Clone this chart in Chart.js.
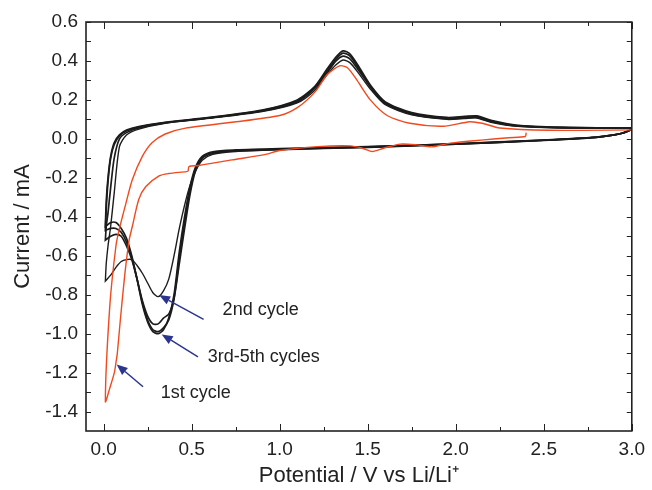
<!DOCTYPE html>
<html>
<head>
<meta charset="utf-8">
<script src="https://cdn.jsdelivr.net/npm/chart.js@4.4.1/dist/chart.umd.min.js"></script>
<style>
  html, body { margin: 0; padding: 0; background: #fff; }
  #wrap { width: 652px; height: 490px; }
</style>
</head>
<body>
<div id="wrap"><canvas id="cv" width="652" height="490"></canvas></div>
<script>
// potentials (V vs Li/Li+) for the black cycles, cathodic sweep 3.0 -> 0.01 V
const cathodicPotential = [3.0, 2.95, 2.9, 2.8, 2.5, 2.0, 1.5, 1.0, 0.75, 0.62, 0.56, 0.52, 0.49, 0.46, 0.43, 0.40, 0.37, 0.34, 0.31, 0.28, 0.25, 0.22, 0.19, 0.16, 0.13, 0.10, 0.07, 0.04, 0.01];
// anodic sweep 0.01 -> 3.0 V
const anodicPotential = [0.01, 0.015, 0.025, 0.04, 0.06, 0.09, 0.13, 0.2, 0.35, 0.6, 0.9, 1.1, 1.2, 1.27, 1.32, 1.36, 1.40, 1.45, 1.52, 1.6, 1.75, 1.95, 2.05, 2.12, 2.2, 2.35, 2.6, 3.0];

// currents (mA)
const cycle2Cathodic = [0.048, 0.03, 0.02, 0.008, -0.008, -0.028, -0.044, -0.056, -0.065, -0.08, -0.11, -0.17, -0.24, -0.34, -0.46, -0.60, -0.72, -0.78, -0.81, -0.79, -0.74, -0.69, -0.65, -0.62, -0.62, -0.63, -0.66, -0.70, -0.73];
const cycle3Cathodic = [0.048, 0.03, 0.02, 0.008, -0.008, -0.027, -0.042, -0.054, -0.062, -0.075, -0.10, -0.17, -0.29, -0.46, -0.64, -0.82, -0.90, -0.92, -0.95, -0.95, -0.91, -0.83, -0.72, -0.62, -0.55, -0.50, -0.49, -0.50, -0.52];
const cycle4Cathodic = [0.048, 0.03, 0.02, 0.008, -0.007, -0.026, -0.041, -0.052, -0.06, -0.07, -0.095, -0.16, -0.27, -0.43, -0.61, -0.82, -0.93, -0.97, -0.99, -0.98, -0.93, -0.84, -0.72, -0.61, -0.53, -0.48, -0.46, -0.46, -0.47];
const cycle5Cathodic = [0.048, 0.03, 0.02, 0.009, -0.006, -0.025, -0.04, -0.05, -0.057, -0.066, -0.09, -0.15, -0.25, -0.40, -0.58, -0.80, -0.92, -0.98, -1.0, -0.99, -0.94, -0.85, -0.72, -0.60, -0.51, -0.46, -0.43, -0.43, -0.45];

const cycle2Anodic = [-0.73, -0.64, -0.55, -0.45, -0.28, -0.04, 0.02, 0.05, 0.08, 0.105, 0.14, 0.185, 0.25, 0.33, 0.38, 0.405, 0.39, 0.335, 0.25, 0.175, 0.123, 0.1, 0.104, 0.107, 0.085, 0.064, 0.056, 0.055];
const cycle3Anodic = [-0.52, -0.45, -0.38, -0.25, -0.10, 0.0, 0.032, 0.056, 0.082, 0.107, 0.143, 0.19, 0.26, 0.34, 0.40, 0.425, 0.41, 0.35, 0.26, 0.18, 0.127, 0.103, 0.107, 0.11, 0.088, 0.066, 0.057, 0.055];
const cycle4Anodic = [-0.47, -0.36, -0.22, -0.10, -0.03, 0.015, 0.04, 0.06, 0.083, 0.108, 0.145, 0.195, 0.265, 0.35, 0.41, 0.44, 0.425, 0.36, 0.265, 0.185, 0.13, 0.106, 0.11, 0.113, 0.09, 0.068, 0.058, 0.055];
const cycle5Anodic = [-0.45, -0.32, -0.20, -0.09, -0.02, 0.02, 0.045, 0.063, 0.085, 0.11, 0.148, 0.2, 0.27, 0.36, 0.42, 0.452, 0.435, 0.37, 0.27, 0.19, 0.135, 0.11, 0.115, 0.118, 0.095, 0.07, 0.06, 0.055];

// 1st cycle starts at open circuit (~2.4 V)
const cycle1Potential = [2.40, 2.395, 2.3, 2.16, 1.97, 1.865, 1.78, 1.685, 1.59, 1.527, 1.47, 1.40, 1.216, 1.0, 0.92, 0.73, 0.54, 0.485, 0.48, 0.47, 0.37, 0.315, 0.24, 0.20, 0.163, 0.145, 0.12, 0.095, 0.078, 0.07, 0.061, 0.035, 0.01,
  0.035, 0.07, 0.09, 0.127, 0.163, 0.22, 0.275, 0.35, 0.465, 0.73, 1.0, 1.10, 1.20, 1.27, 1.34, 1.385, 1.44, 1.515, 1.61, 1.74, 1.93, 2.08, 2.15, 2.25, 2.53, 3.0];
const cycle1Current = [0.032, 0.012, 0.006, -0.005, -0.022, -0.041, -0.031, -0.027, -0.048, -0.065, -0.048, -0.036, -0.04, -0.06, -0.08, -0.108, -0.137, -0.142, -0.165, -0.168, -0.178, -0.19, -0.245, -0.31, -0.45, -0.52, -0.70, -0.93, -1.10, -1.15, -1.20, -1.28, -1.35,
  -0.86, -0.55, -0.46, -0.33, -0.21, -0.09, -0.02, 0.025, 0.055, 0.085, 0.12, 0.16, 0.24, 0.33, 0.375, 0.365, 0.30, 0.20, 0.12, 0.08, 0.065, 0.088, 0.08, 0.056, 0.044, 0.046];

const xTicks = [0, 0.5, 1.0, 1.5, 2.0, 2.5, 3.0];
const yTicks = [-1.4, -1.2, -1.0, -0.8, -0.6, -0.4, -0.2, 0.0, 0.2, 0.4, 0.6];

function toPoints(xs, ys) {
    return xs.map((v, i) => ({ x: v, y: ys[i] }));
}

function cycle(cath, anod) {
    return toPoints(cathodicPotential, cath).concat(toPoints(anodicPotential, anod));
}

const BLACK = '#1c1c1c';
const ORANGE = '#f04a1e';
const ARROW = '#2b3590';
const FONT = '"Liberation Sans", Arial, Helvetica, sans-serif';

const callouts = [
    { text: '2nd cycle', tip: [0.315, -0.802], tail: [0.568, -0.927], at: [0.676, -0.879] },
    { text: '3rd-5th cycles', tip: [0.33, -1.004], tail: [0.536, -1.119], at: [0.591, -1.121] },
    { text: '1st cycle', tip: [0.074, -1.158], tail: [0.224, -1.273], at: [0.324, -1.306] }
];

const frameAndTicks = {
    id: 'frameAndTicks',
    afterDatasetsDraw(chart) {
        const { ctx, chartArea: a, scales: { x, y } } = chart;
        ctx.save();
        ctx.strokeStyle = '#222';
        ctx.lineWidth = 1;
        ctx.beginPath();
        for (let i = 0; i <= 12; i++) {
            const px = Math.round(x.getPixelForValue(i * 0.25)) + 0.5;
            const len = i % 2 === 0 ? 7 : 4;
            ctx.moveTo(px, a.bottom); ctx.lineTo(px, a.bottom - len);
            ctx.moveTo(px, a.top); ctx.lineTo(px, a.top + len);
        }
        for (let i = -14; i <= 6; i++) {
            const py = Math.round(y.getPixelForValue(i / 10)) + 0.5;
            const len = 5;
            ctx.moveTo(a.left, py); ctx.lineTo(a.left + len, py);
            ctx.moveTo(a.right, py); ctx.lineTo(a.right - len, py);
        }
        ctx.stroke();
        ctx.lineWidth = 1.6;
        ctx.strokeRect(a.left, a.top, a.right - a.left, a.bottom - a.top);

        // callouts
        ctx.strokeStyle = ARROW;
        ctx.fillStyle = ARROW;
        ctx.lineWidth = 1.5;
        callouts.forEach(c => {
            const tx = x.getPixelForValue(c.tip[0]), ty = y.getPixelForValue(c.tip[1]);
            const sx = x.getPixelForValue(c.tail[0]), sy = y.getPixelForValue(c.tail[1]);
            const ang = Math.atan2(ty - sy, tx - sx);
            const hl = 11, hw = 4.5;
            const bx = tx - hl * Math.cos(ang), by = ty - hl * Math.sin(ang);
            ctx.beginPath();
            ctx.moveTo(sx, sy); ctx.lineTo(bx, by);
            ctx.stroke();
            ctx.beginPath();
            ctx.moveTo(tx, ty);
            ctx.lineTo(bx + hw * Math.sin(ang), by - hw * Math.cos(ang));
            ctx.lineTo(bx - hw * Math.sin(ang), by + hw * Math.cos(ang));
            ctx.closePath();
            ctx.fill();
        });
        ctx.fillStyle = '#222';
        ctx.font = '18px ' + FONT;
        ctx.textAlign = 'left';
        ctx.textBaseline = 'middle';
        callouts.forEach(c => {
            ctx.fillText(c.text, x.getPixelForValue(c.at[0]), y.getPixelForValue(c.at[1]));
        });
        ctx.restore();
    }
};

const lineStyle = { showLine: true, pointRadius: 0, tension: 0.25, fill: false };

new Chart(document.getElementById('cv'), {
    type: 'scatter',
    data: {
        datasets: [
            Object.assign({ label: '1st cycle', data: toPoints(cycle1Potential, cycle1Current), borderColor: ORANGE, borderWidth: 1.4 }, lineStyle),
            Object.assign({ label: '2nd cycle', data: cycle(cycle2Cathodic, cycle2Anodic), borderColor: BLACK, borderWidth: 1.4 }, lineStyle),
            Object.assign({ label: '3rd cycle', data: cycle(cycle3Cathodic, cycle3Anodic), borderColor: BLACK, borderWidth: 1.7 }, lineStyle),
            Object.assign({ label: '4th cycle', data: cycle(cycle4Cathodic, cycle4Anodic), borderColor: BLACK, borderWidth: 1.7 }, lineStyle),
            Object.assign({ label: '5th cycle', data: cycle(cycle5Cathodic, cycle5Anodic), borderColor: BLACK, borderWidth: 1.7 }, lineStyle)
        ]
    },
    options: {
        responsive: false,
        animation: false,
        devicePixelRatio: 1,
        layout: { padding: { top: 22, right: 15, left: 0, bottom: 0 } },
        plugins: { legend: { display: false }, tooltip: { enabled: false } },
        scales: {
            x: {
                type: 'linear',
                min: -0.1,
                max: 3.0,
                afterFit: s => { s.height = 59; },
                afterBuildTicks: s => { s.ticks = xTicks.map(v => ({ value: v })); },
                grid: { display: false, drawTicks: false, tickLength: 0 },
                border: { display: false },
                ticks: {
                    padding: 7,
                    color: '#222',
                    font: { family: FONT, size: 19 },
                    callback: v => v.toFixed(1)
                },
                title: {
                    display: true,
                    text: 'Potential / V vs Li/Li\u207A',
                    color: '#222',
                    font: { family: FONT, size: 22 },
                    padding: { top: 0, bottom: 1 }
                }
            },
            y: {
                type: 'linear',
                min: -1.5,
                max: 0.6,
                afterFit: s => { s.width = 86; },
                afterBuildTicks: s => { s.ticks = yTicks.map(v => ({ value: v })); },
                grid: { display: false, drawTicks: false, tickLength: 0 },
                border: { display: false },
                ticks: {
                    padding: 8,
                    color: '#222',
                    font: { family: FONT, size: 19 },
                    callback: v => v.toFixed(1)
                },
                title: {
                    display: true,
                    text: 'Current / mA',
                    color: '#222',
                    font: { family: FONT, size: 22 },
                    padding: { top: 10, bottom: 0 }
                }
            }
        }
    },
    plugins: [frameAndTicks]
});
</script>
</body>
</html>
